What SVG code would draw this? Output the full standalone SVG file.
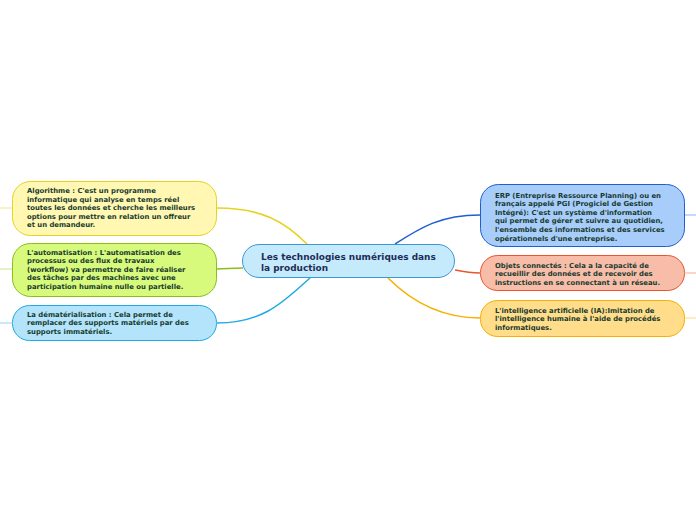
<svg xmlns="http://www.w3.org/2000/svg" width="696" height="520" viewBox="0 0 696 520">
<style>
.t{font-family:"DejaVu Sans",Verdana,sans-serif;font-weight:bold;font-size:6.85px;fill:#173a2e}
.c{font-family:"DejaVu Sans",Verdana,sans-serif;font-weight:bold;font-size:8.95px;fill:#1d2d58}
.n{stroke-width:1}
.l{fill:none;stroke-width:1.5}
</style>
<rect width="696" height="520" fill="#ffffff"/>
<g id="connectors">
<path class="l" stroke="#e6d321" d="M307,244 C285,222 262,208 217,208"/>
<path class="l" stroke="#8cbd1c" d="M243,268 C232,268 226,269 217,269"/>
<path class="l" stroke="#1fa9e6" d="M310,278 C285,300 265,323 217,323"/>
<path class="l" stroke="#1e60cf" d="M395,244 C420,228 440,215 480,215"/>
<path class="l" stroke="#e9552e" d="M455,270 C465,272 470,273 480,273"/>
<path class="l" stroke="#f5b000" d="M388,278 C410,300 440,318 480,318"/>
<path class="l" stroke="#f4eeb0" d="M0,208 H12"/>
<path class="l" stroke="#dcefb0" d="M0,269 H12"/>
<path class="l" stroke="#b5e2f7" d="M0,323 H12"/>
<path class="l" stroke="#b3cdf5" d="M685,215 H696"/>
<path class="l" stroke="#f7c8b8" d="M685,273 H696"/>
<path class="l" stroke="#fde6b0" d="M685,318 H696"/>
</g>
<g id="center">
<rect class="n" x="242.5" y="244.5" width="212" height="33" rx="16.5" fill="#c5eafb" stroke="#3b98d6"/>
<text class="c" x="261" y="259.5">Les technologies numériques dans</text>
<text class="c" x="261" y="270.5">la production</text>
</g>
<g id="algorithme">
<rect class="n" x="12.5" y="181.5" width="204" height="54" rx="18" fill="#fff7b2" stroke="#e6d321"/>
<text class="t" x="27" y="193"><tspan x="27">Algorithme : C'est un programme</tspan><tspan x="27" dy="8.6">informatique qui analyse en temps réel</tspan><tspan x="27" dy="8.6">toutes les données et cherche les meilleurs</tspan><tspan x="27" dy="8.6">options pour mettre en relation un offreur</tspan><tspan x="27" dy="8.6">et un demandeur.</tspan></text>
</g>
<g id="automatisation">
<rect class="n" x="12.5" y="243.5" width="204" height="53" rx="18" fill="#d7f97c" stroke="#8cbd1c"/>
<text class="t" x="27" y="254.5"><tspan x="27">L'automatisation : L'automatisation des</tspan><tspan x="27" dy="8.6">processus ou des flux de travaux</tspan><tspan x="27" dy="8.6">(workflow) va permettre de faire réaliser</tspan><tspan x="27" dy="8.6">des tâches par des machines avec une</tspan><tspan x="27" dy="8.6">participation humaine nulle ou partielle.</tspan></text>
</g>
<g id="dematerialisation">
<rect class="n" x="12.5" y="305.5" width="204" height="35" rx="17" fill="#b3e4fb" stroke="#1fa9e6"/>
<text class="t" x="27" y="316.5"><tspan x="27">La dématérialisation : Cela permet de</tspan><tspan x="27" dy="8.6">remplacer des supports matériels par des</tspan><tspan x="27" dy="8.6">supports immatériels.</tspan></text>
</g>
<g id="erp">
<rect class="n" x="480.5" y="184.5" width="204" height="62" rx="18" fill="#a9cdfb" stroke="#1e60cf"/>
<text class="t" x="495" y="197.5"><tspan x="495">ERP (Entreprise Ressource Planning) ou en</tspan><tspan x="495" dy="8.6">français appelé PGI (Progiciel de Gestion</tspan><tspan x="495" dy="8.6">Intégré): C'est un système d'information</tspan><tspan x="495" dy="8.6">qui permet de gérer et suivre au quotidien,</tspan><tspan x="495" dy="8.6">l'ensemble des informations et des services</tspan><tspan x="495" dy="8.6">opérationnels d'une entreprise.</tspan></text>
</g>
<g id="objets">
<rect class="n" x="480.5" y="255.5" width="204" height="35" rx="17" fill="#f8bda9" stroke="#e9552e"/>
<text class="t" x="495" y="267.5"><tspan x="495">Objets connectés : Cela a la capacité de</tspan><tspan x="495" dy="8.6">recueillir des données et de recevoir des</tspan><tspan x="495" dy="8.6">instructions en se connectant à un réseau.</tspan></text>
</g>
<g id="ia">
<rect class="n" x="480.5" y="300.5" width="204" height="36" rx="17" fill="#ffdd8a" stroke="#f5b000"/>
<text class="t" x="495" y="312.5"><tspan x="495">L'intelligence artificielle (IA):Imitation de</tspan><tspan x="495" dy="8.6">l'intelligence humaine à l'aide de procédés</tspan><tspan x="495" dy="8.6">informatiques.</tspan></text>
</g>
</svg>
